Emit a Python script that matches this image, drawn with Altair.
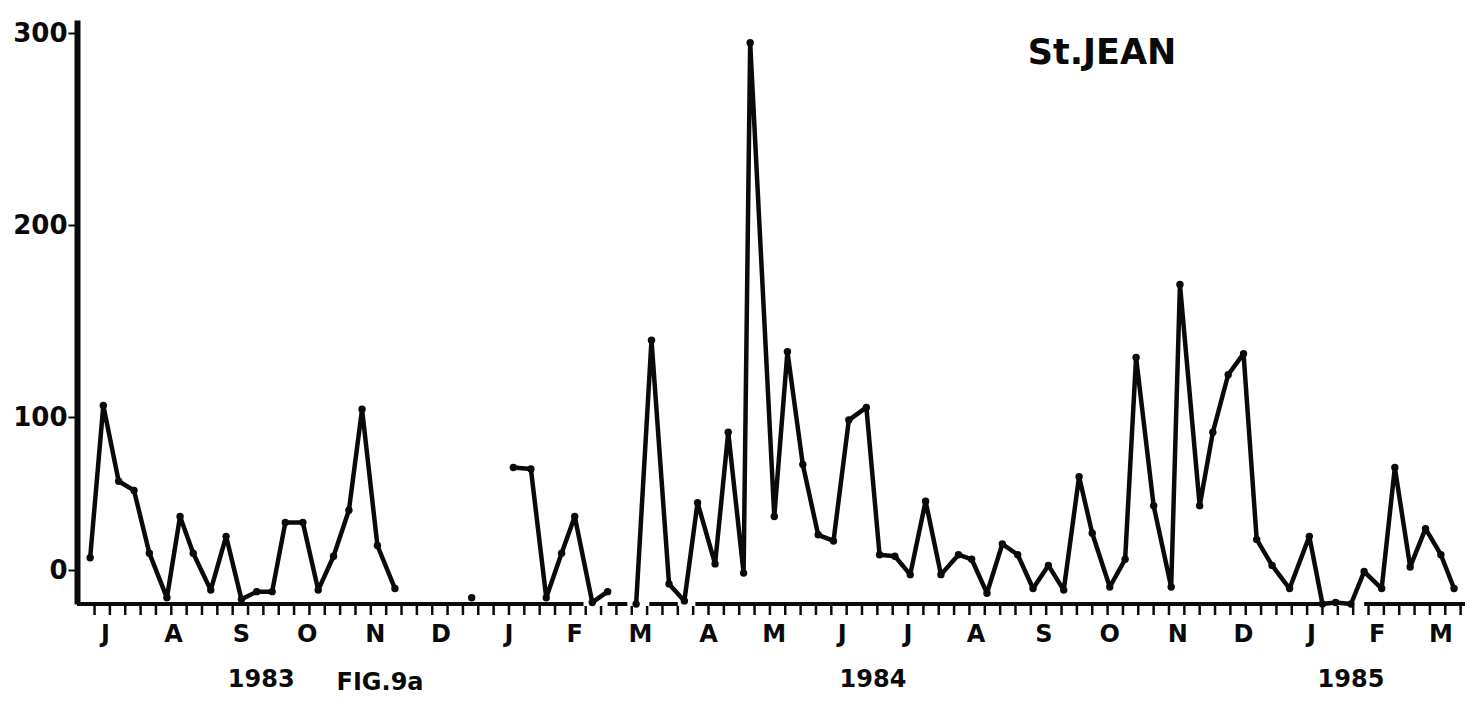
import altair as alt
import pandas as pd

# Weekly counts at St. Jean, June 1983 - March 1985 (FIG.9a)
seg1_dates = ["1983-07-09", "1983-07-15", "1983-07-22", "1983-07-29", "1983-08-05",
              "1983-08-13", "1983-08-19", "1983-08-25", "1983-09-02", "1983-09-09",
              "1983-09-16", "1983-09-23", "1983-09-30", "1983-10-06", "1983-10-14",
              "1983-10-21", "1983-10-28", "1983-11-04", "1983-11-10", "1983-11-17",
              "1983-11-25"]
seg1_values = [8, 106, 58, 52, 11, -18, 35, 11, -13, 22, -19, -14, -14, 31, 31,
               -13, 9, 39, 104, 16, -12]

seg2_dates = ["1983-12-30"]
seg2_values = [-18]

seg3_dates = ["1984-01-18", "1984-01-26", "1984-02-02", "1984-02-09", "1984-02-15",
              "1984-02-23", "1984-03-01"]
seg3_values = [67, 66, -18, 11, 35, -21, -14]

seg4_dates = ["1984-03-14", "1984-03-21", "1984-03-29", "1984-04-05", "1984-04-11",
              "1984-04-19", "1984-04-25", "1984-05-02", "1984-05-05", "1984-05-16",
              "1984-05-22", "1984-05-29", "1984-06-05", "1984-06-12", "1984-06-19",
              "1984-06-27", "1984-07-03", "1984-07-10", "1984-07-17", "1984-07-24",
              "1984-07-31", "1984-08-08", "1984-08-14", "1984-08-21", "1984-08-28",
              "1984-09-04", "1984-09-11", "1984-09-18", "1984-09-25", "1984-10-02",
              "1984-10-08", "1984-10-16", "1984-10-23", "1984-10-28", "1984-11-05",
              "1984-11-13", "1984-11-17", "1984-11-26", "1984-12-02", "1984-12-09",
              "1984-12-16", "1984-12-22", "1984-12-29", "1985-01-06", "1985-01-15",
              "1985-01-21", "1985-01-27", "1985-02-03", "1985-02-09", "1985-02-17",
              "1985-02-23", "1985-03-02", "1985-03-09", "1985-03-16", "1985-03-22"]
seg4_values = [-22, 140, -9, -20, 44, 4, 90, -2, 295, 35,
               134, 69, 23, 19, 98, 105, 10, 9, -3, 45,
               -3, 10, 7, -15, 17, 10, -12, 3, -13, 61,
               24, -11, 7, 131, 42, -11, 169, 42, 90, 122,
               133, 20, 3, -12, 22, -22, -21, -22, -1, -12,
               67, 2, 27, 10, -12]

month_letters = ["J", "A", "S", "O", "N", "D", "J", "F", "M", "A", "M",
                 "J", "J", "A", "S", "O", "N", "D", "J", "F", "M"]
month_dates = ["1983-07-16", "1983-08-16", "1983-09-16", "1983-10-16", "1983-11-16",
               "1983-12-16", "1984-01-16", "1984-02-15", "1984-03-16", "1984-04-16",
               "1984-05-16", "1984-06-16", "1984-07-16", "1984-08-16", "1984-09-16",
               "1984-10-16", "1984-11-16", "1984-12-16", "1985-01-16", "1985-02-15",
               "1985-03-16"]

year_labels = ["1983", "1984", "1985"]
year_dates = ["1983-09-25", "1984-06-30", "1985-02-03"]

y_ticks = [0, 100, 200, 300]

# pieces of the time-axis base line (it is broken in two places)
base_starts = ["1983-07-03", "1984-03-01", "1984-03-20", "1984-04-10", "1985-02-09"]
base_ends = ["1984-02-19", "1984-03-10", "1984-04-02", "1985-01-21", "1985-03-27"]

FONT = "DejaVu Sans"
INK = "#0a0a0a"

segments = [seg1_dates, seg2_dates, seg3_dates, seg4_dates]
seg_vals = [seg1_values, seg2_values, seg3_values, seg4_values]
rows = []
for i, (ds, vs) in enumerate(zip(segments, seg_vals)):
    for d, v in zip(ds, vs):
        rows.append({"date": d, "count": v, "seg": i})
df = pd.DataFrame(rows)

months_df = pd.DataFrame({"date": month_dates, "label": month_letters})
years_df = pd.DataFrame({"date": year_dates, "label": year_labels})
base_df = pd.DataFrame({"start": base_starts, "end": base_ends})

# weekly tick marks along the time axis
tick_days = pd.date_range("1983-07-11", "1985-03-25", freq="7D")
ticks_df = pd.DataFrame({"date": tick_days.strftime("%Y-%m-%d")})

x_scale = alt.Scale(
    type="utc",
    domain=[alt.DateTime(year=1983, month=7, date=3, utc=True),
            alt.DateTime(year=1985, month=3, date=27, utc=True)],
    nice=False,
)
# the printed value axis is not uniform below 100: piecewise linear scale
y_scale = alt.Scale(domain=[-22, 0, 100, 306.8], range=[584, 550, 397, 0],
                    zero=False, nice=False)

x_enc = alt.X("date:T", scale=x_scale, title=None, axis=None)
y_enc = alt.Y(
    "count:Q", scale=y_scale, title=None,
    axis=alt.Axis(values=y_ticks, grid=False, tickSize=9, tickWidth=2, tickColor=INK,
                  domainWidth=6, domainColor=INK, labelFont=FONT, labelFontSize=26,
                  labelFontWeight="bold", labelColor=INK, labelPadding=1),
)

line = alt.Chart(df).mark_line(color=INK, strokeWidth=4.5, strokeJoin="round").encode(
    x=x_enc, y=y_enc, detail="seg:N", order="date:T"
)
dots = alt.Chart(df).mark_circle(color=INK, size=55, opacity=1).encode(
    x="date:T", y="count:Q"
)

base = alt.Chart(base_df).mark_rule(color=INK, strokeWidth=4).encode(
    x="start:T", x2="end:T", y=alt.value(584)
)
week_ticks = alt.Chart(ticks_df).mark_rule(color=INK, strokeWidth=2.5).encode(
    x="date:T", y=alt.value(586), y2=alt.value(595)
)

months = alt.Chart(months_df).mark_text(
    font=FONT, fontSize=24, fontWeight="bold", color=INK, baseline="middle"
).encode(x="date:T", y=alt.value(615), text="label:N")

years = alt.Chart(years_df).mark_text(
    font=FONT, fontSize=24, fontWeight="bold", color=INK, baseline="middle"
).encode(x="date:T", y=alt.value(660), text="label:N")

fig_label = alt.Chart(pd.DataFrame({"label": ["FIG.9a"]})).mark_text(
    font=FONT, fontSize=24, fontWeight="bold", color=INK, baseline="middle"
).encode(x=alt.value(303), y=alt.value(663), text="label:N")

station = alt.Chart(pd.DataFrame({"label": ["St.JEAN"]})).mark_text(
    font=FONT, fontSize=35, fontWeight="bold", color=INK, baseline="middle"
).encode(x=alt.value(1025), y=alt.value(33), text="label:N")

chart = alt.layer(line, dots, base, week_ticks, months, years, fig_label, station).properties(
    width=1388,
    height=584,
    padding={"left": 77, "top": 20, "right": 4, "bottom": 106},
    autosize="none",
    background="white",
).configure_view(stroke=None)

chart.save("out.html", embed_options={"renderer": "svg", "actions": False})
